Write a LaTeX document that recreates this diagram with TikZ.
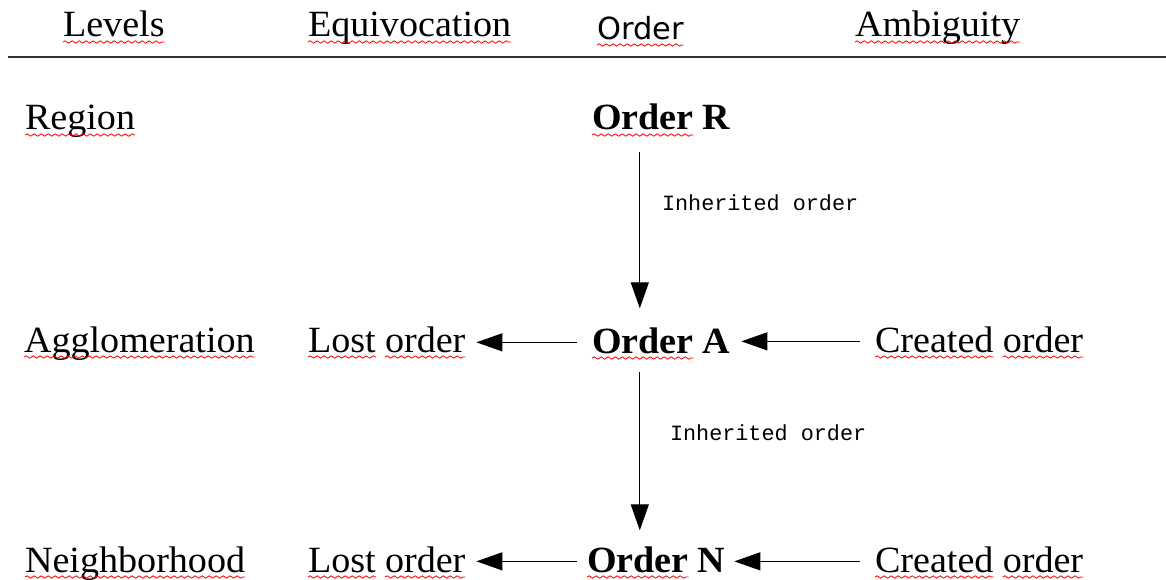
\documentclass[tikz,border=0pt]{standalone}
\usepackage{fontspec}
\setmainfont{Liberation Serif}[FakeStretch=1.03]
\newfontfamily\hdsans{DejaVu Sans}
\newfontfamily\lblmono{Liberation Mono}
\usetikzlibrary{arrows.meta,decorations.pathmorphing}
\begin{document}
\begin{tikzpicture}[x=1pt,y=-1pt,
  txt/.style={inner sep=0pt, outer sep=0pt, anchor=base west, font=\fontsize{37}{40}\selectfont},
  boldtxt/.style={txt, font=\fontsize{37}{40}\selectfont\bfseries},
  hdr/.style={txt, font=\fontsize{30.5}{34}\selectfont\hdsans},
  lbl/.style={inner sep=0pt, outer sep=0pt, anchor=west, font=\fontsize{21.8}{24}\selectfont\lblmono},
  arr/.style={line width=1.2pt, -{Triangle[length=26pt,width=18pt]}},
  rule/.style={line width=1.3pt, draw=black!80},
  squig/.style={draw=red, line width=0.8pt, decorate, decoration={snake, amplitude=1.2pt, segment length=7pt}}
]
\useasboundingbox (0,0) rectangle (1166,580);
\fill[white] (0,0) rectangle (1166,580);

% header
\node[txt] (lev) at (63,37) {Levels};
\node[txt] (equ) at (308,37) {Equivocation};
\node[hdr] (ohd) at (597,40) {Order};
\node[txt] (amb) at (855,37) {Ambiguity};
\draw[rule] (8,57) -- (1166,57);

% row R
\node[txt] (reg) at (25,130) {Region};
\node[boldtxt] (oR) at (592,130) {Order};
\node[boldtxt, anchor=base west] (lR) at ([xshift=9.25pt]oR.base east) {R};

% row A
\node[txt] (agg) at (24,352) {Agglomeration};
\node[txt] (l1a) at (308,352) {Lost};
\node[txt, anchor=base west] (l1b) at ([xshift=9.25pt]l1a.base east) {order};
\node[boldtxt] (oA) at (592,353) {Order};
\node[boldtxt, anchor=base west] (lA) at ([xshift=9.25pt]oA.base east) {A};
\node[txt] (c1a) at (875,352) {Created};
\node[txt, anchor=base west] (c1b) at ([xshift=9.25pt]c1a.base east) {order};

% row N
\node[txt] (nei) at (25,572) {Neighborhood};
\node[txt] (l2a) at (308,572) {Lost};
\node[txt, anchor=base west] (l2b) at ([xshift=9.25pt]l2a.base east) {order};
\node[boldtxt] (oN) at (587,572) {Order};
\node[boldtxt, anchor=base west] (lN) at ([xshift=9.25pt]oN.base east) {N};
\node[txt] (c2a) at (875,572) {Created};
\node[txt, anchor=base west] (c2b) at ([xshift=9.25pt]c2a.base east) {order};

% labels
\node[lbl] (inh1) at (662,203) {Inherited order};
\node[lbl] (inh2) at (670,433) {Inherited order};

% vertical arrows
\draw[arr, shorten <=22pt, shorten >=19pt] ([xshift=-3pt]oR.south) -- ([xshift=-3pt]oR.south |- oA.north);
\draw[arr, shorten <=19pt, shorten >=16pt] ([xshift=-3pt]oA.south) -- ([xshift=-3pt]oA.south |- oN.north);

% horizontal arrows row A
\draw[arr, shorten <=15pt, shorten >=11pt] ([yshift=-2pt]oA.west) -- ([yshift=-2pt]oA.west -| l1b.east);
\draw[arr, shorten <=15pt, shorten >=11pt] ([yshift=-2pt]c1a.west) -- ([yshift=-2pt]c1a.west -| lA.east);

% horizontal arrows row N
\draw[arr, shorten <=10pt, shorten >=11pt] ([yshift=-2pt]oN.west) -- ([yshift=-2pt]oN.west -| l2b.east);
\draw[arr, shorten <=15pt, shorten >=9pt] ([yshift=-2pt]c2a.west) -- ([yshift=-2pt]c2a.west -| lN.east);

% spell-check squiggles
\foreach \n in {lev,equ,ohd,amb,reg,oR,agg,l1a,l1b,oA,c1a,c1b,nei,l2a,l2b,oN,c2a,c2b}
  \draw[squig] ([yshift=-5pt]\n.base west) -- ([yshift=-5pt]\n.base east);
\end{tikzpicture}
\end{document}
